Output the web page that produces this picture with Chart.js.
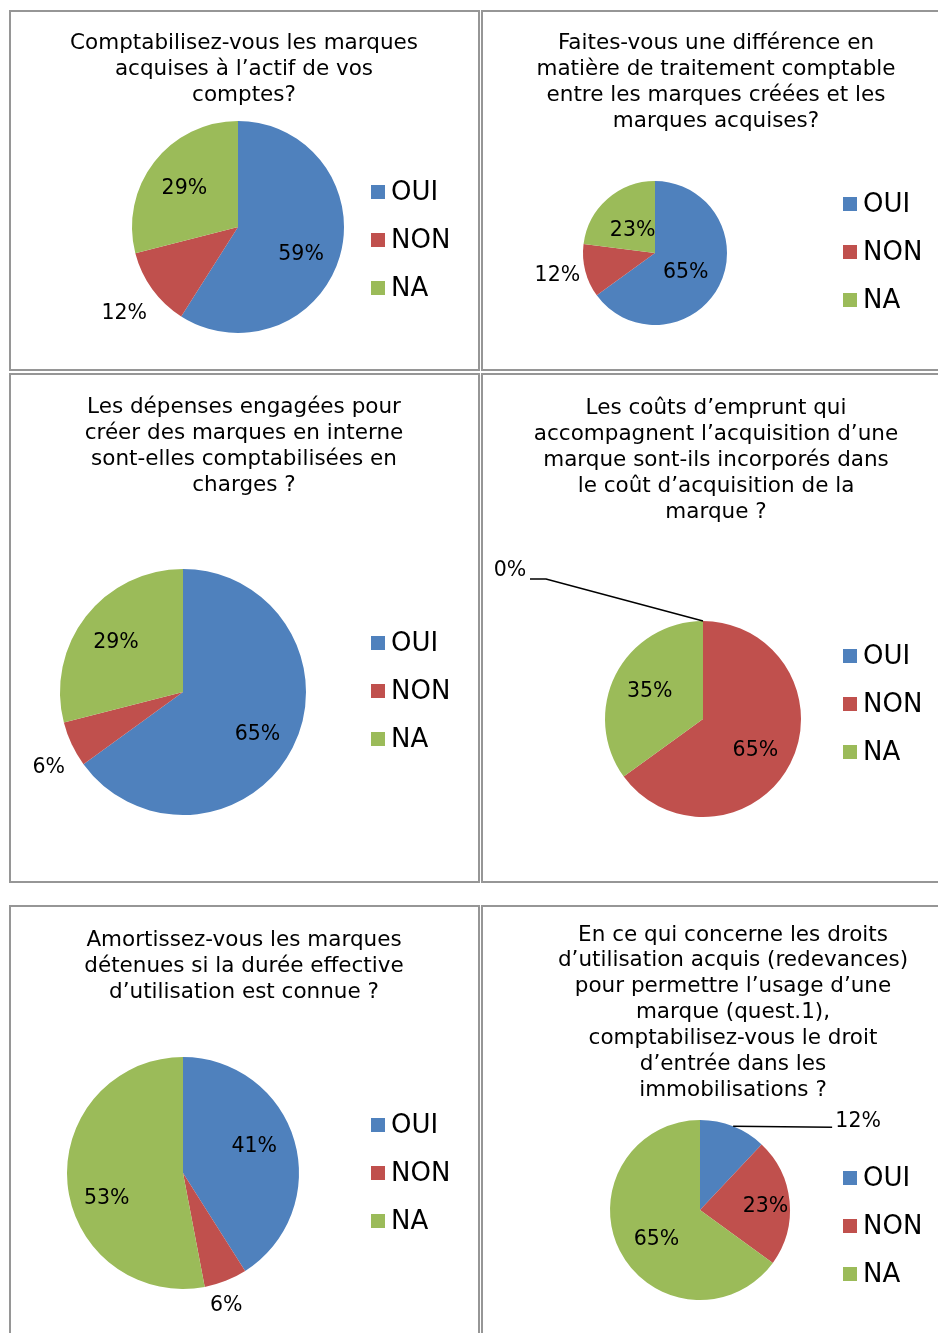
<!DOCTYPE html>
<html>
<head>
<meta charset="utf-8">
<script src="https://cdn.jsdelivr.net/npm/chart.js@4.4.1/dist/chart.umd.min.js"></script>
<style>
  body { margin: 0; background: #fff; width: 938px; height: 1333px; overflow: hidden; position: relative; }
  .panel { position: absolute; border: 2px solid #969696; box-sizing: border-box; }
  canvas { position: absolute; }
</style>
</head>
<body>
<script>
// categories and colours shared by every pie
const categories = ['OUI', 'NON', 'NA'];
const colors = ['#4F81BD', '#C0504D', '#9BBB59'];

// values (%) per question
const q1Values = [59, 12, 29];
const q2Values = [65, 12, 23];
const q3Values = [65, 6, 29];
const q4Values = [0, 65, 35];
const q5Values = [41, 6, 53];
const q6Values = [12, 23, 65];

// titles
const q1Title = ['Comptabilisez-vous les marques', 'acquises à l’actif de vos', 'comptes?'];
const q2Title = ['Faites-vous une différence en', 'matière de traitement comptable', 'entre les marques créées et les', 'marques acquises?'];
const q3Title = ['Les dépenses engagées pour', 'créer des marques en interne', 'sont-elles comptabilisées en', 'charges ?'];
const q4Title = ['Les coûts d’emprunt qui', 'accompagnent l’acquisition d’une', 'marque sont-ils incorporés dans', 'le coût d’acquisition de la', 'marque ?'];
const q5Title = ['Amortissez-vous les marques', 'détenues si la durée effective', 'd’utilisation est connue ?'];
const q6Title = ['En ce qui concerne les droits', 'd’utilisation acquis (redevances)', 'pour permettre l’usage d’une', 'marque (quest.1),', 'comptabilisez-vous le droit', 'd’entrée dans les', 'immobilisations ?'];

const FONT = '"DejaVu Sans", Verdana, sans-serif';

// draws title, legend and percentage labels on each panel
const decor = {
  id: 'decor',
  afterDraw(chart, args, o) {
    const ctx = chart.ctx;
    ctx.save();
    ctx.fillStyle = '#000';
    ctx.textAlign = 'center';
    ctx.textBaseline = 'middle';
    ctx.font = '21.5px ' + FONT;
    o.title.forEach((t, i) => ctx.fillText(t, o.titleX, o.titleY + i * o.lineH));

    // legend
    ctx.font = '26px ' + FONT;
    ctx.textAlign = 'left';
    chart.data.labels.forEach((lab, i) => {
      const y = o.legY + i * 48;
      ctx.fillStyle = chart.data.datasets[0].backgroundColor[i];
      ctx.fillRect(o.legX, y - 7, 14, 14);
      ctx.fillStyle = '#000';
      ctx.fillText(lab, o.legX + 20, y + 1);
    });

    // data labels
    const meta = chart.getDatasetMeta(0);
    const data = chart.data.datasets[0].data;
    ctx.font = '20.5px ' + FONT;
    ctx.textAlign = 'center';
    meta.data.forEach((arc, i) => {
      const p = o.labels[i];
      const mid = (arc.startAngle + arc.endAngle) / 2;
      const r = arc.outerRadius;
      const txt = data[i] + '%';
      if (p.pts) {
        const ex = arc.x + Math.cos(mid) * r;
        const ey = arc.y + Math.sin(mid) * r;
        const tx = ex + p.dx, ty = ey + p.dy;
        ctx.strokeStyle = '#000';
        ctx.lineWidth = 1.5;
        ctx.beginPath();
        ctx.moveTo(ex, ey);
        p.pts.forEach(q => ctx.lineTo(tx + q[0], ty + q[1]));
        ctx.stroke();
        ctx.fillText(txt, tx, ty);
      } else {
        ctx.fillText(txt, arc.x + Math.cos(mid) * r * p.f + (p.ox || 0),
                          arc.y + Math.sin(mid) * r * p.f + (p.oy || 0));
      }
    });
    ctx.restore();
  }
};

// panel layout in page pixels
const panels = [
  { values: q1Values, title: q1Title, box: [9, 10, 471, 361], titleX: 244, titleY: 43, lineH: 26.4,
    pie: [238, 227, 106], leg: [371, 192], labels: [{ f: 0.62, oy: 9 }, { f: 1.35, ox: 2, oy: 3 }, { f: 0.64, oy: 3 }] },
  { values: q2Values, title: q2Title, box: [481, 10, 470, 361], titleX: 716, titleY: 43, lineH: 26.2,
    pie: [655, 253, 72], leg: [843, 204], labels: [{ f: 0.48, oy: 4 }, { f: 1.4, oy: -2 }, { f: 0.47, oy: 3 }] },
  { values: q3Values, title: q3Title, box: [9, 373, 471, 510], titleX: 244, titleY: 407, lineH: 26.3,
    pie: [183, 692, 123], leg: [371, 643], labels: [{ f: 0.68, oy: 5 }, { f: 1.26, ox: 6, oy: 10 }, { f: 0.69, oy: 3 }] },
  { values: q4Values, title: q4Title, box: [481, 373, 470, 510], titleX: 716, titleY: 408, lineH: 26.1,
    pie: [703, 719, 98], leg: [843, 656],
    labels: [{ dx: -193, dy: -50, pts: [[36, 8], [20, 8]] }, { f: 0.6, oy: 5 }, { f: 0.61 }] },
  { values: q5Values, title: q5Title, box: [9, 905, 471, 440], titleX: 244, titleY: 940, lineH: 26.2,
    pie: [183, 1173, 116], leg: [371, 1125], labels: [{ f: 0.64, oy: -6 }, { f: 1.2, ox: -8, oy: 3 }, { f: 0.66, oy: 18 }] },
  { values: q6Values, title: q6Title, box: [481, 905, 470, 440], titleX: 733, titleY: 935, lineH: 25.9,
    pie: [700, 1210, 90], leg: [843, 1178],
    labels: [{ dx: 125, dy: -5, pts: [[-26, 6]] }, { f: 0.73, oy: 3 }, { f: 0.58, ox: 3, oy: 6 }] }
];

panels.forEach(p => {
  const [bx, by, bw, bh] = p.box;
  const div = document.createElement('div');
  div.className = 'panel';
  Object.assign(div.style, { left: bx + 'px', top: by + 'px', width: bw + 'px', height: bh + 'px' });
  document.body.appendChild(div);

  const canvas = document.createElement('canvas');
  canvas.width = bw;
  canvas.height = bh;
  Object.assign(canvas.style, { left: bx + 'px', top: by + 'px' });
  document.body.appendChild(canvas);

  const [cx, cy, r] = [p.pie[0] - bx, p.pie[1] - by, p.pie[2]];
  new Chart(canvas, {
    type: 'pie',
    data: {
      labels: categories,
      datasets: [{ data: p.values, backgroundColor: colors, borderWidth: 0 }]
    },
    options: {
      responsive: false,
      animation: false,
      events: [],
      layout: { padding: { left: cx - r, top: cy - r, right: bw - cx - r, bottom: bh - cy - r } },
      plugins: {
        legend: { display: false },
        tooltip: { enabled: false },
        decor: {
          title: p.title, titleX: p.titleX - bx, titleY: p.titleY - by, lineH: p.lineH,
          legX: p.leg[0] - bx, legY: p.leg[1] - by, labels: p.labels
        }
      }
    },
    plugins: [decor]
  });
});
</script>
</body>
</html>
